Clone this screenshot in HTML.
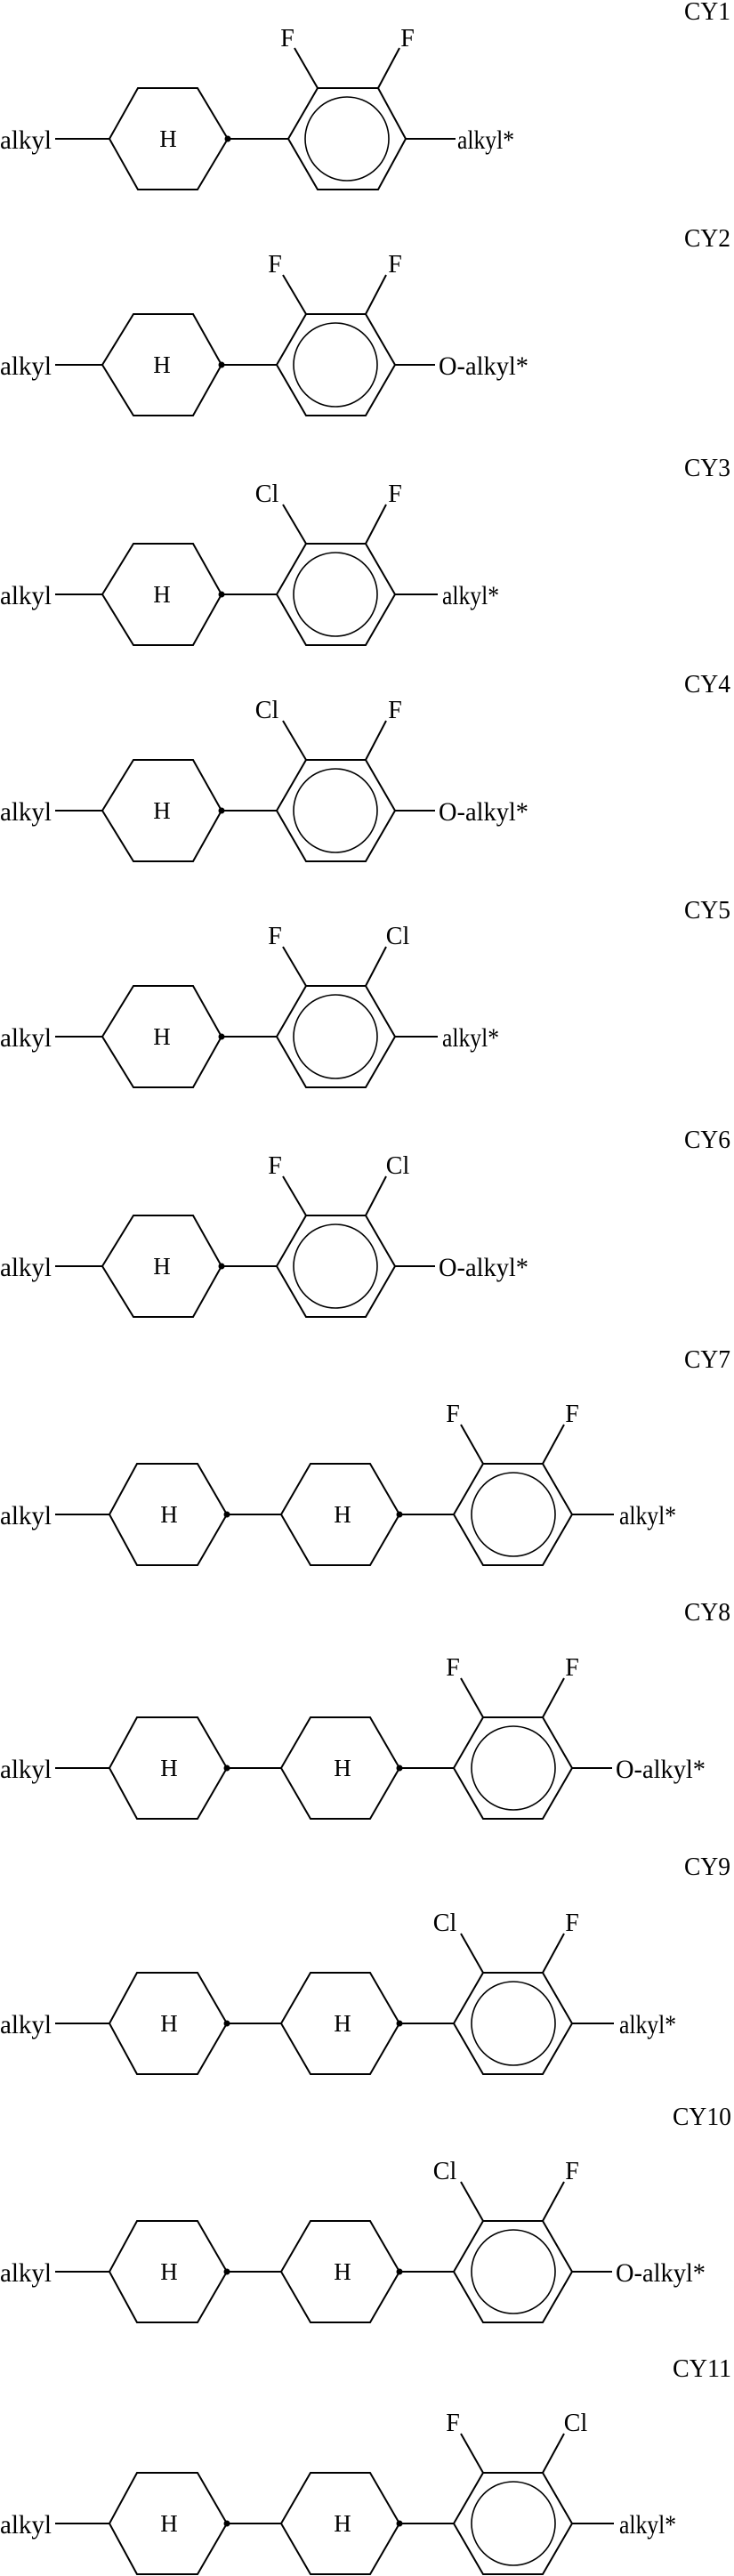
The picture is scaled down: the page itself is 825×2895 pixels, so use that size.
<!DOCTYPE html>
<html><head><meta charset="utf-8"><style>
html,body{margin:0;padding:0;background:#fff;}
svg{display:block;}
text{font-family:"Liberation Serif",serif;font-size:30px;fill:#000;}
.h{font-size:27px;text-anchor:middle;}
.s{font-size:28px;text-anchor:middle;}
.lb{font-size:28px;}
.ln{stroke:#000;stroke-width:2;fill:none;}
.c{stroke:#000;stroke-width:1.6;fill:none;}
</style></head><body>
<svg width="825" height="2895" viewBox="0 0 825 2895" xmlns="http://www.w3.org/2000/svg">

<!-- CY1 -->
<text class="lb" x="769" y="22" textLength="52" lengthAdjust="spacingAndGlyphs">CY1</text>
<g transform="translate(0,156)">
<text x="0" y="11" textLength="58" lengthAdjust="spacingAndGlyphs">alkyl</text>
<line class="ln" x1="62" y1="0" x2="123" y2="0"/>
<polygon class="ln" points="123,0 155,-57 222,-57 256,0 222,57 155,57"/>
<circle cx="256" cy="0" r="3.5"/>
<text class="h" x="189" y="9">H</text>
<line class="ln" x1="256" y1="0" x2="324" y2="0"/>
<polygon class="ln" points="324,0 357,-57 425,-57 456,0 425,57 357,57"/>
<circle class="c" cx="390" cy="0" r="47"/>
<line class="ln" x1="357" y1="-57" x2="331" y2="-102"/>
<line class="ln" x1="425" y1="-57" x2="449" y2="-102"/>
<text class="s" x="323" y="-104">F</text>
<text class="s" x="458" y="-104">F</text>
<line class="ln" x1="456" y1="0" x2="512" y2="0"/>
<text x="514" y="11" textLength="64" lengthAdjust="spacingAndGlyphs">alkyl*</text>
</g>

<!-- CY2 -->
<text class="lb" x="769" y="277" textLength="52" lengthAdjust="spacingAndGlyphs">CY2</text>
<g transform="translate(0,410)">
<text x="0" y="11" textLength="58" lengthAdjust="spacingAndGlyphs">alkyl</text>
<line class="ln" x1="62" y1="0" x2="115" y2="0"/>
<polygon class="ln" points="115,0 150,-57 217,-57 249,0 217,57 150,57"/>
<circle cx="249" cy="0" r="3.5"/>
<text class="h" x="182" y="9">H</text>
<line class="ln" x1="249" y1="0" x2="311" y2="0"/>
<polygon class="ln" points="311,0 344,-57 411,-57 444,0 411,57 344,57"/>
<circle class="c" cx="377" cy="0" r="47"/>
<line class="ln" x1="344" y1="-57" x2="318" y2="-101"/>
<line class="ln" x1="411" y1="-57" x2="434" y2="-101"/>
<text class="s" x="309" y="-104">F</text>
<text class="s" x="444" y="-104">F</text>
<line class="ln" x1="444" y1="0" x2="489" y2="0"/>
<text x="493" y="11" textLength="101" lengthAdjust="spacingAndGlyphs">O-alkyl*</text>
</g>

<!-- CY3 -->
<text class="lb" x="769" y="535" textLength="52" lengthAdjust="spacingAndGlyphs">CY3</text>
<g transform="translate(0,668)">
<text x="0" y="11" textLength="58" lengthAdjust="spacingAndGlyphs">alkyl</text>
<line class="ln" x1="62" y1="0" x2="115" y2="0"/>
<polygon class="ln" points="115,0 150,-57 217,-57 249,0 217,57 150,57"/>
<circle cx="249" cy="0" r="3.5"/>
<text class="h" x="182" y="9">H</text>
<line class="ln" x1="249" y1="0" x2="311" y2="0"/>
<polygon class="ln" points="311,0 344,-57 411,-57 444,0 411,57 344,57"/>
<circle class="c" cx="377" cy="0" r="47"/>
<line class="ln" x1="344" y1="-57" x2="318" y2="-101"/>
<line class="ln" x1="411" y1="-57" x2="434" y2="-101"/>
<text class="s" x="300" y="-104">Cl</text>
<text class="s" x="444" y="-104">F</text>
<line class="ln" x1="444" y1="0" x2="492" y2="0"/>
<text x="497" y="11" textLength="64" lengthAdjust="spacingAndGlyphs">alkyl*</text>
</g>

<!-- CY4 -->
<text class="lb" x="769" y="778" textLength="52" lengthAdjust="spacingAndGlyphs">CY4</text>
<g transform="translate(0,911)">
<text x="0" y="11" textLength="58" lengthAdjust="spacingAndGlyphs">alkyl</text>
<line class="ln" x1="62" y1="0" x2="115" y2="0"/>
<polygon class="ln" points="115,0 150,-57 217,-57 249,0 217,57 150,57"/>
<circle cx="249" cy="0" r="3.5"/>
<text class="h" x="182" y="9">H</text>
<line class="ln" x1="249" y1="0" x2="311" y2="0"/>
<polygon class="ln" points="311,0 344,-57 411,-57 444,0 411,57 344,57"/>
<circle class="c" cx="377" cy="0" r="47"/>
<line class="ln" x1="344" y1="-57" x2="318" y2="-101"/>
<line class="ln" x1="411" y1="-57" x2="434" y2="-101"/>
<text class="s" x="300" y="-104">Cl</text>
<text class="s" x="444" y="-104">F</text>
<line class="ln" x1="444" y1="0" x2="489" y2="0"/>
<text x="493" y="11" textLength="101" lengthAdjust="spacingAndGlyphs">O-alkyl*</text>
</g>

<!-- CY5 -->
<text class="lb" x="769" y="1032" textLength="52" lengthAdjust="spacingAndGlyphs">CY5</text>
<g transform="translate(0,1165)">
<text x="0" y="11" textLength="58" lengthAdjust="spacingAndGlyphs">alkyl</text>
<line class="ln" x1="62" y1="0" x2="115" y2="0"/>
<polygon class="ln" points="115,0 150,-57 217,-57 249,0 217,57 150,57"/>
<circle cx="249" cy="0" r="3.5"/>
<text class="h" x="182" y="9">H</text>
<line class="ln" x1="249" y1="0" x2="311" y2="0"/>
<polygon class="ln" points="311,0 344,-57 411,-57 444,0 411,57 344,57"/>
<circle class="c" cx="377" cy="0" r="47"/>
<line class="ln" x1="344" y1="-57" x2="318" y2="-101"/>
<line class="ln" x1="411" y1="-57" x2="434" y2="-101"/>
<text class="s" x="309" y="-104">F</text>
<text class="s" x="447" y="-104">Cl</text>
<line class="ln" x1="444" y1="0" x2="492" y2="0"/>
<text x="497" y="11" textLength="64" lengthAdjust="spacingAndGlyphs">alkyl*</text>
</g>

<!-- CY6 -->
<text class="lb" x="769" y="1290" textLength="52" lengthAdjust="spacingAndGlyphs">CY6</text>
<g transform="translate(0,1423)">
<text x="0" y="11" textLength="58" lengthAdjust="spacingAndGlyphs">alkyl</text>
<line class="ln" x1="62" y1="0" x2="115" y2="0"/>
<polygon class="ln" points="115,0 150,-57 217,-57 249,0 217,57 150,57"/>
<circle cx="249" cy="0" r="3.5"/>
<text class="h" x="182" y="9">H</text>
<line class="ln" x1="249" y1="0" x2="311" y2="0"/>
<polygon class="ln" points="311,0 344,-57 411,-57 444,0 411,57 344,57"/>
<circle class="c" cx="377" cy="0" r="47"/>
<line class="ln" x1="344" y1="-57" x2="318" y2="-101"/>
<line class="ln" x1="411" y1="-57" x2="434" y2="-101"/>
<text class="s" x="309" y="-104">F</text>
<text class="s" x="447" y="-104">Cl</text>
<line class="ln" x1="444" y1="0" x2="489" y2="0"/>
<text x="493" y="11" textLength="101" lengthAdjust="spacingAndGlyphs">O-alkyl*</text>
</g>

<!-- CY7 -->
<text class="lb" x="769" y="1537" textLength="52" lengthAdjust="spacingAndGlyphs">CY7</text>
<g transform="translate(0,1702)">
<text x="0" y="11" textLength="58" lengthAdjust="spacingAndGlyphs">alkyl</text>
<line class="ln" x1="62" y1="0" x2="123" y2="0"/>
<polygon class="ln" points="123,0 154,-57 222,-57 255,0 222,57 154,57"/>
<circle cx="255" cy="0" r="3.5"/>
<text class="h" x="190" y="9">H</text>
<line class="ln" x1="255" y1="0" x2="316" y2="0"/>
<polygon class="ln" points="316,0 349,-57 416,-57 449,0 416,57 349,57"/>
<circle cx="449" cy="0" r="3.5"/>
<text class="h" x="385" y="9">H</text>
<line class="ln" x1="449" y1="0" x2="510" y2="0"/>
<polygon class="ln" points="510,0 543,-57 610,-57 643,0 610,57 543,57"/>
<circle class="c" cx="577" cy="0" r="47"/>
<line class="ln" x1="543" y1="-57" x2="518" y2="-101"/>
<line class="ln" x1="610" y1="-57" x2="634" y2="-101"/>
<text class="s" x="509" y="-104">F</text>
<text class="s" x="643" y="-104">F</text>
<line class="ln" x1="643" y1="0" x2="690" y2="0"/>
<text x="696" y="11" textLength="64" lengthAdjust="spacingAndGlyphs">alkyl*</text>
</g>

<!-- CY8 -->
<text class="lb" x="769" y="1821" textLength="52" lengthAdjust="spacingAndGlyphs">CY8</text>
<g transform="translate(0,1987)">
<text x="0" y="11" textLength="58" lengthAdjust="spacingAndGlyphs">alkyl</text>
<line class="ln" x1="62" y1="0" x2="123" y2="0"/>
<polygon class="ln" points="123,0 154,-57 222,-57 255,0 222,57 154,57"/>
<circle cx="255" cy="0" r="3.5"/>
<text class="h" x="190" y="9">H</text>
<line class="ln" x1="255" y1="0" x2="316" y2="0"/>
<polygon class="ln" points="316,0 349,-57 416,-57 449,0 416,57 349,57"/>
<circle cx="449" cy="0" r="3.5"/>
<text class="h" x="385" y="9">H</text>
<line class="ln" x1="449" y1="0" x2="510" y2="0"/>
<polygon class="ln" points="510,0 543,-57 610,-57 643,0 610,57 543,57"/>
<circle class="c" cx="577" cy="0" r="47"/>
<line class="ln" x1="543" y1="-57" x2="518" y2="-101"/>
<line class="ln" x1="610" y1="-57" x2="634" y2="-101"/>
<text class="s" x="509" y="-104">F</text>
<text class="s" x="643" y="-104">F</text>
<line class="ln" x1="643" y1="0" x2="688" y2="0"/>
<text x="692" y="11" textLength="101" lengthAdjust="spacingAndGlyphs">O-alkyl*</text>
</g>

<!-- CY9 -->
<text class="lb" x="769" y="2107" textLength="52" lengthAdjust="spacingAndGlyphs">CY9</text>
<g transform="translate(0,2274)">
<text x="0" y="11" textLength="58" lengthAdjust="spacingAndGlyphs">alkyl</text>
<line class="ln" x1="62" y1="0" x2="123" y2="0"/>
<polygon class="ln" points="123,0 154,-57 222,-57 255,0 222,57 154,57"/>
<circle cx="255" cy="0" r="3.5"/>
<text class="h" x="190" y="9">H</text>
<line class="ln" x1="255" y1="0" x2="316" y2="0"/>
<polygon class="ln" points="316,0 349,-57 416,-57 449,0 416,57 349,57"/>
<circle cx="449" cy="0" r="3.5"/>
<text class="h" x="385" y="9">H</text>
<line class="ln" x1="449" y1="0" x2="510" y2="0"/>
<polygon class="ln" points="510,0 543,-57 610,-57 643,0 610,57 543,57"/>
<circle class="c" cx="577" cy="0" r="47"/>
<line class="ln" x1="543" y1="-57" x2="518" y2="-101"/>
<line class="ln" x1="610" y1="-57" x2="634" y2="-101"/>
<text class="s" x="500" y="-104">Cl</text>
<text class="s" x="643" y="-104">F</text>
<line class="ln" x1="643" y1="0" x2="690" y2="0"/>
<text x="696" y="11" textLength="64" lengthAdjust="spacingAndGlyphs">alkyl*</text>
</g>

<!-- CY10 -->
<text class="lb" x="756" y="2388" textLength="66" lengthAdjust="spacingAndGlyphs">CY10</text>
<g transform="translate(0,2553)">
<text x="0" y="11" textLength="58" lengthAdjust="spacingAndGlyphs">alkyl</text>
<line class="ln" x1="62" y1="0" x2="123" y2="0"/>
<polygon class="ln" points="123,0 154,-57 222,-57 255,0 222,57 154,57"/>
<circle cx="255" cy="0" r="3.5"/>
<text class="h" x="190" y="9">H</text>
<line class="ln" x1="255" y1="0" x2="316" y2="0"/>
<polygon class="ln" points="316,0 349,-57 416,-57 449,0 416,57 349,57"/>
<circle cx="449" cy="0" r="3.5"/>
<text class="h" x="385" y="9">H</text>
<line class="ln" x1="449" y1="0" x2="510" y2="0"/>
<polygon class="ln" points="510,0 543,-57 610,-57 643,0 610,57 543,57"/>
<circle class="c" cx="577" cy="0" r="47"/>
<line class="ln" x1="543" y1="-57" x2="518" y2="-101"/>
<line class="ln" x1="610" y1="-57" x2="634" y2="-101"/>
<text class="s" x="500" y="-104">Cl</text>
<text class="s" x="643" y="-104">F</text>
<line class="ln" x1="643" y1="0" x2="688" y2="0"/>
<text x="692" y="11" textLength="101" lengthAdjust="spacingAndGlyphs">O-alkyl*</text>
</g>

<!-- CY11 -->
<text class="lb" x="756" y="2671" textLength="66" lengthAdjust="spacingAndGlyphs">CY11</text>
<g transform="translate(0,2836)">
<text x="0" y="11" textLength="58" lengthAdjust="spacingAndGlyphs">alkyl</text>
<line class="ln" x1="62" y1="0" x2="123" y2="0"/>
<polygon class="ln" points="123,0 154,-57 222,-57 255,0 222,57 154,57"/>
<circle cx="255" cy="0" r="3.5"/>
<text class="h" x="190" y="9">H</text>
<line class="ln" x1="255" y1="0" x2="316" y2="0"/>
<polygon class="ln" points="316,0 349,-57 416,-57 449,0 416,57 349,57"/>
<circle cx="449" cy="0" r="3.5"/>
<text class="h" x="385" y="9">H</text>
<line class="ln" x1="449" y1="0" x2="510" y2="0"/>
<polygon class="ln" points="510,0 543,-57 610,-57 643,0 610,57 543,57"/>
<circle class="c" cx="577" cy="0" r="47"/>
<line class="ln" x1="543" y1="-57" x2="518" y2="-101"/>
<line class="ln" x1="610" y1="-57" x2="634" y2="-101"/>
<text class="s" x="509" y="-104">F</text>
<text class="s" x="647" y="-104">Cl</text>
<line class="ln" x1="643" y1="0" x2="690" y2="0"/>
<text x="696" y="11" textLength="64" lengthAdjust="spacingAndGlyphs">alkyl*</text>
</g>

</svg>
</body></html>
